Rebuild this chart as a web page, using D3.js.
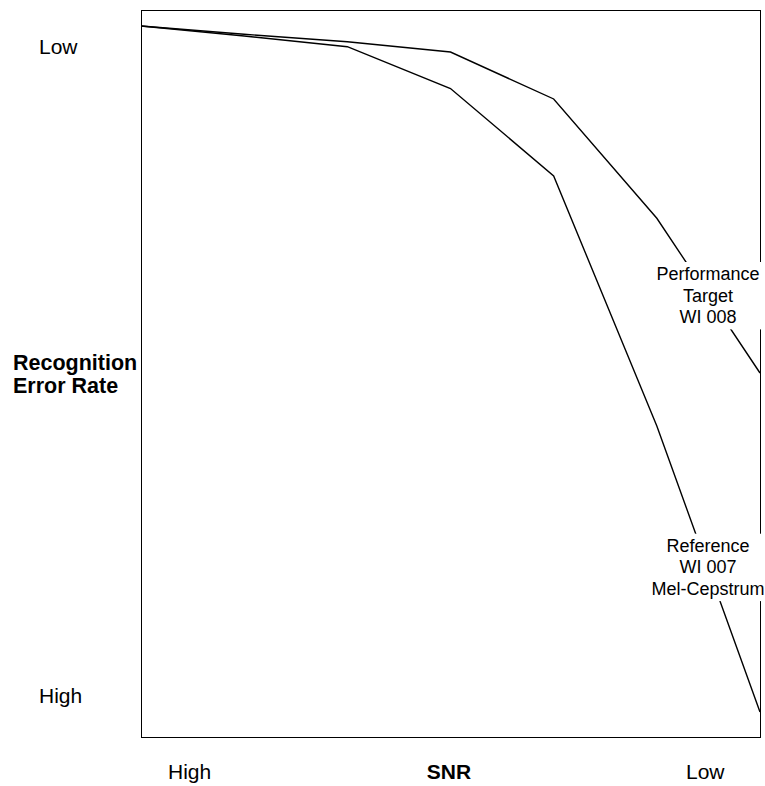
<!DOCTYPE html>
<html>
<head>
<meta charset="utf-8">
<script src="https://cdn.jsdelivr.net/npm/d3@7"></script>
<style>
  html, body { margin: 0; padding: 0; background: #fff; }
  svg { display: block; font-family: Arial, "Liberation Sans", sans-serif; }
</style>
</head>
<body>
<svg id="chart" width="765" height="786"></svg>
<script>
// SNR steps from High (0) to Low (6)
const snrSteps = [0, 1, 2, 3, 4, 5, 6];
// Recognition error rate (0 = Low at top, 100 = High at bottom)
const performanceTarget = [2.2, 3.34, 4.36, 5.78, 12.24, 28.65, 49.93];
const referenceMelCepstrum = [2.2, 3.58, 5.05, 10.8, 22.83, 57.22, 96.56];
const seriesLabels = [
  ["Performance", "Target", "WI 008"],
  ["Reference", "WI 007", "Mel-Cepstrum"]
];
const xTickLabels = ["High", "SNR", "Low"];
const yTickLabels = ["Low", "High"];
const yTitle = ["Recognition", "Error Rate"];

const svg = d3.select("#chart");
const pLeft = 141, pRight = 760, pTop = 10, pBottom = 737;
const x = d3.scaleLinear().domain([0, 6]).range([pLeft, pRight]);
const y = d3.scaleLinear().domain([0, 100]).range([pTop, pBottom]);

// frame
svg.append("rect")
  .attr("x", pLeft + 0.5).attr("y", pTop + 0.5)
  .attr("width", pRight - pLeft).attr("height", pBottom - pTop)
  .attr("fill", "none").attr("stroke", "#000").attr("stroke-width", 1);

const line = d3.line().x((d, i) => x(snrSteps[i])).y(d => y(d));
[performanceTarget, referenceMelCepstrum].forEach(s => {
  svg.append("path").datum(s)
    .attr("d", line)
    .attr("fill", "none").attr("stroke", "#000").attr("stroke-width", 1.4)
    .attr("stroke-linejoin", "miter");
});

// series annotations with white boxes
function annot(lines, cx, firstBaseline, fs, lh) {
  const g = svg.append("g");
  const rect = g.append("rect").attr("fill", "#fff");
  const t = g.append("text").attr("text-anchor", "middle")
    .attr("font-size", fs).attr("fill", "#000");
  lines.forEach((l, i) => {
    t.append("tspan").attr("x", cx).attr("y", firstBaseline + i * lh).text(l);
  });
  const bb = t.node().getBBox();
  rect.attr("x", bb.x - 3).attr("y", bb.y - 2)
      .attr("width", bb.width + 6).attr("height", bb.height + 4);
}
annot(seriesLabels[0], 708, 280, 18, 21.7);
annot(seriesLabels[1], 708, 551.7, 18, 21.7);

// y labels
svg.append("text").attr("x", 39).attr("y", 54).attr("font-size", 21).text(yTickLabels[0]);
svg.append("text").attr("x", 39).attr("y", 703).attr("font-size", 21).text(yTickLabels[1]);
const yt = svg.append("text").attr("font-size", 21.5).attr("font-weight", "bold");
yTitle.forEach((l, i) => yt.append("tspan").attr("x", 13).attr("y", 370 + i * 23).text(l));

// x labels
svg.append("text").attr("x", 168).attr("y", 779).attr("font-size", 21).text(xTickLabels[0]);
svg.append("text").attr("x", 449).attr("y", 779).attr("font-size", 21)
  .attr("font-weight", "bold").attr("text-anchor", "middle").text(xTickLabels[1]);
svg.append("text").attr("x", 686).attr("y", 779).attr("font-size", 21).text(xTickLabels[2]);
</script>
</body>
</html>
